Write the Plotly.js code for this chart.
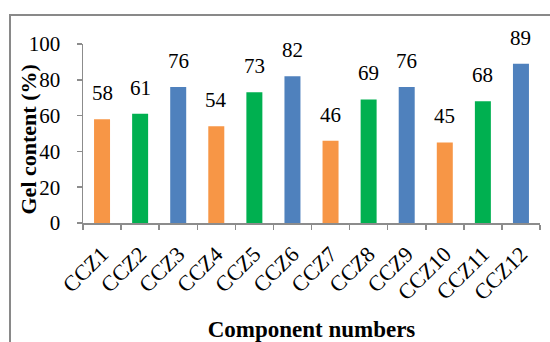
<!DOCTYPE html>
<html>
<head>
<meta charset="utf-8">
<script src="https://cdn.plot.ly/plotly-3.0.1.min.js"></script>
<style>
  html, body { margin: 0; padding: 0; background: #fff; }
  #wrap { position: relative; width: 550px; height: 342px; overflow: hidden; }
  #chart { position: absolute; left: 0; top: 0; width: 550px; height: 342px; }
  #frame { position: absolute; left: 9px; top: 14px; width: 600px; height: 400px;
           border-left: 2px solid #898989; border-top: 2px solid #898989; pointer-events: none; }
</style>
</head>
<body>
<div id="wrap">
  <div id="chart"></div>
  <div id="frame"></div>
</div>
<script>
// Gel content for each composition
const categories = ["CCZ1", "CCZ2", "CCZ3", "CCZ4", "CCZ5", "CCZ6",
                    "CCZ7", "CCZ8", "CCZ9", "CCZ10", "CCZ11", "CCZ12"];
const gelContent = [58, 61, 76, 54, 73, 82, 46, 69, 76, 45, 68, 89];
const barColors = ["#F79646", "#00B050", "#4F81BD", "#F79646", "#00B050", "#4F81BD",
                   "#F79646", "#00B050", "#4F81BD", "#F79646", "#00B050", "#4F81BD"];
const yTicks = [0, 20, 40, 60, 80, 100];

const serif = "Liberation Serif";
const axisGray = "#8c8c8c";

const trace = {
  type: "bar",
  x: categories,
  y: gelContent,
  marker: { color: barColors, line: { width: 0 } },
  hoverinfo: "x+y"
};

// value labels above each bar
const valueLabels = categories.map((c, i) => ({
  x: c, y: gelContent[i], xref: "x", yref: "y",
  text: String(gelContent[i]),
  showarrow: false, yanchor: "bottom", yshift: 12,
  font: { family: serif, size: 21, color: "#000" }
}));

const yTitle = {
  xref: "paper", yref: "paper", x: 0, y: 0.5,
  xanchor: "center", yanchor: "middle", xshift: -55, yshift: -6,
  textangle: -90, showarrow: false,
  text: "<b>Gel content (%)</b>",
  font: { family: serif, size: 22, color: "#000" }
};

const layout = {
  width: 550, height: 342,
  margin: { l: 83, r: 10, t: 44, b: 119 },
  paper_bgcolor: "#fff", plot_bgcolor: "#fff",
  showlegend: false,
  bargap: 0.58,
  font: { family: serif, color: "#000" },
  xaxis: {
    type: "category",
    showline: true, linecolor: axisGray, linewidth: 1.5,
    ticks: "outside", tickson: "boundaries", ticklen: 5, tickcolor: axisGray, tickwidth: 1.5,
    tickangle: -45, ticklabelstandoff: 8,
    tickfont: { family: serif, size: 22, color: "#000" },
    showgrid: false, zeroline: false, automargin: false,
    title: { text: "<b>Component numbers</b>", standoff: 21,
             font: { family: serif, size: 23, color: "#000" } }
  },
  yaxis: {
    range: [0, 100], tickvals: yTicks,
    showline: true, linecolor: axisGray, linewidth: 1.5,
    ticks: "outside", ticklen: 5, tickcolor: axisGray, tickwidth: 1.5,
    ticklabelstandoff: 12,
    tickfont: { family: serif, size: 21, color: "#000" },
    showgrid: false, zeroline: false, automargin: false
  },
  annotations: valueLabels.concat([yTitle])
};

Plotly.newPlot("chart", [trace], layout, { staticPlot: true, displayModeBar: false });
</script>
</body>
</html>
